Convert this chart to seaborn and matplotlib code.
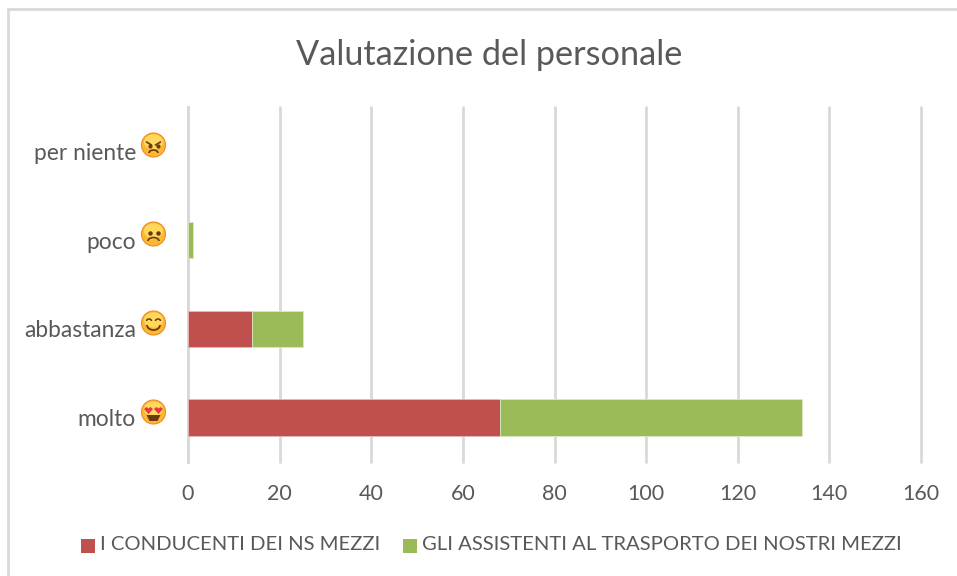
import matplotlib
matplotlib.use('Agg')
import matplotlib.pyplot as plt
from matplotlib.patches import Circle, Ellipse, Arc, Polygon, Rectangle
import seaborn as sns

# --- datos ---
categorie = ['per niente', 'poco', 'abbastanza', 'molto']
conducenti = [0, 0, 14, 68]
assistenti = [0, 1, 11, 66]
tick_x = [0, 20, 40, 60, 80, 100, 120, 140, 160]
nome_conducenti = 'I CONDUCENTI DEI NS MEZZI'
nome_assistenti = 'GLI ASSISTENTI AL TRASPORTO DEI NOSTRI MEZZI'
titolo = 'Valutazione del personale'

ROSSO = '#c0504d'
VERDE = '#9bbb59'
GRIGIO = '#d9d9d9'
TESTO = '#595959'

sns.set_theme(style='white')
plt.rcParams['font.family'] = ['Lato', 'DejaVu Sans']

W, H = 957, 576
fig = plt.figure(figsize=(W / 100, H / 100), dpi=100, facecolor='white')
ax = fig.add_axes([188 / W, 1 - 462 / H, (921 - 188) / W, (462 - 107) / H])

# --- barre impilate ---
sns.barplot(x=conducenti, y=categorie, color=ROSSO, saturation=1, width=0.41,
            edgecolor='#e6b8b7', linewidth=0.6, ax=ax, zorder=3)
sns.barplot(x=assistenti, y=categorie, left=conducenti, color=VERDE, saturation=1, width=0.41,
            edgecolor='#dbe8c4', linewidth=0.6, ax=ax, zorder=3)

# le barre a zero non devono lasciare il bordo
for barra in ax.patches:
    if barra.get_width() == 0:
        barra.set_visible(False)

ax.set_xlim(0, 160)
ax.set_ylim(3.5, -0.5)
ax.set_xticks(tick_x)
ax.set_xlabel('')
ax.set_ylabel('')
ax.xaxis.grid(True, color=GRIGIO, linewidth=2)
for linea in ax.get_xgridlines():
    linea.set_clip_on(False)
ax.set_axisbelow(True)
for lato in ['top', 'right', 'bottom']:
    ax.spines[lato].set_visible(False)
ax.spines['left'].set_color(GRIGIO)
ax.spines['left'].set_linewidth(2)
ax.tick_params(axis='x', length=0, pad=15.5, labelsize=15.5, labelcolor=TESTO)
ax.tick_params(axis='y', length=0, pad=37.5, labelsize=16.4, labelcolor=TESTO)

# --- livello in pixel per cornice, emoji e legenda ---
ov = fig.add_axes([0, 0, 1, 1], facecolor='none')
ov.set_xlim(0, W)
ov.set_ylim(H, 0)
ov.axis('off')

ov.plot([8, 8, W], [H, 8.5, 8.5], color=GRIGIO, linewidth=2, solid_joinstyle='miter')
ov.text(489, 55, titolo, ha='center', va='center', fontsize=24.7, color=TESTO)


def faccia(cx, cy, tipo):
    ov.add_patch(Circle((cx, cy), 12, facecolor='#fbb832', edgecolor='#f08a24', linewidth=0.8))
    ov.add_patch(Ellipse((cx, cy - 3), 19, 15, facecolor='#ffd85c', edgecolor='none'))
    if tipo == 'arrabbiato':
        ov.plot([cx - 7, cx - 2], [cy - 3, cy], color='#6b3a12', linewidth=1.2)
        ov.plot([cx + 7, cx + 2], [cy - 3, cy], color='#6b3a12', linewidth=1.2)
        ov.plot([cx - 4], [cy + 1], 'o', color='#6b3a12', markersize=2)
        ov.plot([cx + 4], [cy + 1], 'o', color='#6b3a12', markersize=2)
        ov.add_patch(Arc((cx, cy + 8), 9, 6, theta1=180, theta2=360, color='#6b3a12', linewidth=1.2))
    elif tipo == 'triste':
        ov.plot([cx - 4, cx + 4], [cy - 1, cy - 1], 'o', color='#6b3a12', markersize=2.2)
        ov.add_patch(Arc((cx, cy + 7), 11, 7, theta1=180, theta2=360, color='#6b3a12', linewidth=1.2))
    elif tipo == 'sorriso':
        ov.add_patch(Arc((cx - 4.5, cy - 2), 5, 4, theta1=180, theta2=360, color='#6b3a12', linewidth=1.1))
        ov.add_patch(Arc((cx + 4.5, cy - 2), 5, 4, theta1=180, theta2=360, color='#6b3a12', linewidth=1.1))
        ov.add_patch(Arc((cx, cy + 2), 13, 10, theta1=0, theta2=180, color='#6b3a12', linewidth=1.3))
    else:
        for dx in (-5, 5):
            ov.add_patch(Polygon([(cx + dx - 4.5, cy - 3), (cx + dx - 2, cy - 5), (cx + dx, cy - 3.5),
                                  (cx + dx + 2, cy - 5), (cx + dx + 4.5, cy - 3), (cx + dx, cy + 2)],
                                 facecolor='#e8344a', edgecolor='none'))
        ov.add_patch(Polygon([(cx - 7, cy + 3), (cx + 7, cy + 3), (cx + 4, cy + 9), (cx - 4, cy + 9)],
                             facecolor='#6b3a12', edgecolor='none'))


for y, tipo in zip([145, 234, 323, 412], ['arrabbiato', 'triste', 'sorriso', 'cuori']):
    faccia(153.5, y, tipo)

# --- legenda ---
ov.add_patch(Rectangle((81, 539), 14, 14, facecolor=ROSSO, edgecolor='none'))
ov.text(100, 545, nome_conducenti, ha='left', va='center', fontsize=14.6, color=TESTO)
ov.add_patch(Rectangle((403, 539), 14, 14, facecolor=VERDE, edgecolor='none'))
ov.text(422, 545, nome_assistenti, ha='left', va='center', fontsize=14.6, color=TESTO)

fig.savefig('out.png', dpi=100, facecolor='white')
